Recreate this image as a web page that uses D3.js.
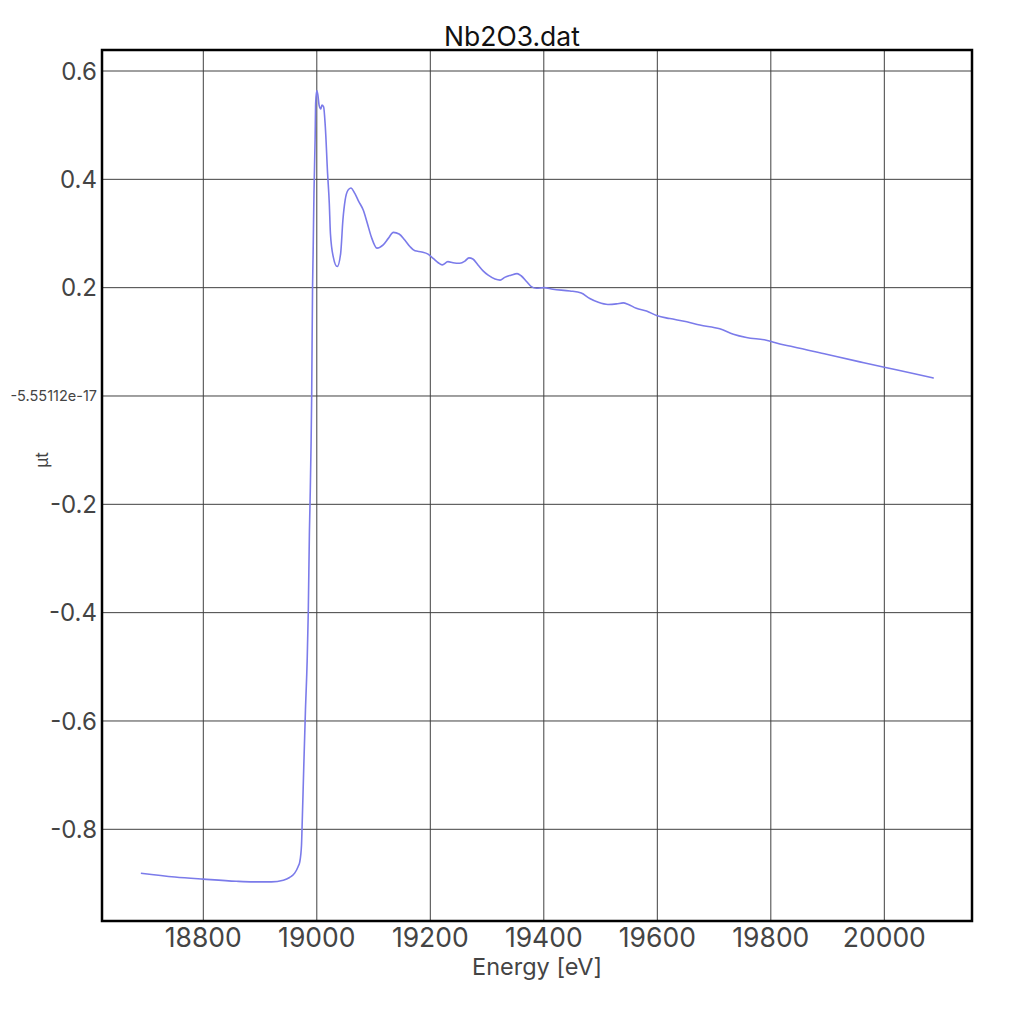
<!DOCTYPE html>
<html>
<head>
<meta charset="utf-8">
<script src="https://cdn.jsdelivr.net/npm/d3@7"></script>
<style>
  body { margin: 0; background: #fff; }
  text { font-family: Inter, "DejaVu Sans", sans-serif; }
</style>
</head>
<body>
<script>
// spectrum
const energy = [18690, 18750, 18800, 18858, 18888, 18920, 18941, 18952, 18961, 18967, 18970, 18973,
  18974, 18977, 18980, 18983, 18985, 18987, 18988, 18991, 18992.5, 18993.5, 18995, 18997, 18998, 19000,
  19002, 19004, 19007, 19009, 19012, 19015, 19019, 19022, 19024, 19029, 19036, 19042, 19046, 19050, 19055, 19060,
  19067, 19074, 19082, 19089, 19096, 19106, 19117, 19126, 19135, 19145, 19155, 19164, 19173, 19185,
  19196, 19205, 19214, 19221, 19231, 19240, 19252, 19261, 19268, 19275, 19284, 19293, 19302, 19314,
  19323, 19331, 19342, 19353, 19360, 19370, 19378, 19387, 19400, 19416, 19446, 19466, 19481, 19496,
  19513, 19528, 19540, 19549, 19563, 19581, 19600, 19622, 19652, 19675, 19710, 19734, 19757, 19792,
  19816, 19839, 19898, 19957, 20000, 20045, 20087];
const mu = [-0.881, -0.888, -0.892, -0.896, -0.897, -0.897, -0.894, -0.889, -0.881, -0.869, -0.860, -0.830,
  -0.798, -0.686, -0.580, -0.489, -0.398, -0.250, -0.201, 0.003, 0.200, 0.263, 0.374, 0.473, 0.541, 0.564,
  0.555, 0.537, 0.530, 0.537, 0.534, 0.497, 0.411, 0.356, 0.300, 0.257, 0.239, 0.263, 0.325, 0.362, 0.380, 0.384,
  0.374, 0.359, 0.343, 0.319, 0.294, 0.273, 0.279, 0.291, 0.302, 0.299, 0.288, 0.276, 0.268, 0.266,
  0.262, 0.254, 0.246, 0.242, 0.248, 0.246, 0.245, 0.249, 0.255, 0.253, 0.242, 0.231, 0.223, 0.216,
  0.214, 0.219, 0.223, 0.226, 0.222, 0.211, 0.202, 0.199, 0.200, 0.197, 0.194, 0.190, 0.180, 0.173,
  0.169, 0.170, 0.172, 0.169, 0.162, 0.157, 0.148, 0.143, 0.137, 0.131, 0.124, 0.114, 0.108, 0.103,
  0.096, 0.091, 0.077, 0.063, 0.053, 0.043, 0.033];

const xTicks = [18800, 19000, 19200, 19400, 19600, 19800, 20000];
const yTicks = [0.6, 0.4, 0.2, -5.55112e-17, -0.2, -0.4, -0.6, -0.8];
const yTickLabels = ["0.6", "0.4", "0.2", "-5.55112e-17", "-0.2", "-0.4", "-0.6", "-0.8"];

const W = 1024, H = 1024;
const pLeft = 102, pRight = 972, pTop = 50, pBottom = 921;

const svg = d3.select("body").append("svg")
  .attr("width", W)
  .attr("height", H);

const x = d3.scaleLinear().domain([18621.5, 20154.5]).range([pLeft, pRight]);
const y = d3.scaleLinear().domain([-0.9693, 0.6388]).range([pBottom, pTop]);

// grid
svg.append("g").selectAll("line").data(xTicks).enter().append("line")
  .attr("x1", d => x(d)).attr("x2", d => x(d))
  .attr("y1", pTop).attr("y2", pBottom)
  .attr("stroke", "#404040").attr("stroke-width", 1);
svg.append("g").selectAll("line").data(yTicks).enter().append("line")
  .attr("x1", pLeft).attr("x2", pRight)
  .attr("y1", d => y(d)).attr("y2", d => y(d))
  .attr("stroke", "#404040").attr("stroke-width", 1);

// tick labels
svg.append("g").selectAll("text").data(xTicks).enter().append("text")
  .attr("x", d => x(d)).attr("y", 947)
  .attr("text-anchor", "middle")
  .attr("font-size", 26.5).attr("fill", "#444")
  .text(d => d);
svg.append("g").selectAll("text").data(yTicks).enter().append("text")
  .attr("x", 97).attr("y", d => y(d))
  .attr("dy", "0.36em")
  .attr("text-anchor", "end")
  .attr("font-size", (d, i) => yTickLabels[i].length > 5 ? 14.5 : 24)
  .attr("fill", "#444")
  .text((d, i) => yTickLabels[i]);

// curve
const pts = energy.map((e, i) => [e, mu[i]]);
svg.append("path")
  .datum(pts)
  .attr("fill", "none")
  .attr("stroke", "#7b7bea")
  .attr("stroke-width", 1.6)
  .attr("d", d3.line().curve(d3.curveMonotoneX).x(d => x(d[0])).y(d => y(d[1])));

// frame
svg.append("rect")
  .attr("x", pLeft).attr("y", pTop)
  .attr("width", pRight - pLeft).attr("height", pBottom - pTop)
  .attr("fill", "none").attr("stroke", "#000").attr("stroke-width", 2.5);

// titles
svg.append("text").attr("x", 512).attr("y", 46)
  .attr("text-anchor", "middle").attr("font-size", 26.5).attr("fill", "#111")
  .text("Nb2O3.dat");
svg.append("text").attr("x", 537).attr("y", 975)
  .attr("text-anchor", "middle").attr("font-size", 23.5).attr("fill", "#444")
  .text("Energy [eV]");
svg.append("text")
  .attr("transform", "translate(48,460) rotate(-90)")
  .attr("text-anchor", "middle").attr("font-size", 17).attr("fill", "#444")
  .text("μt");
</script>
</body>
</html>
